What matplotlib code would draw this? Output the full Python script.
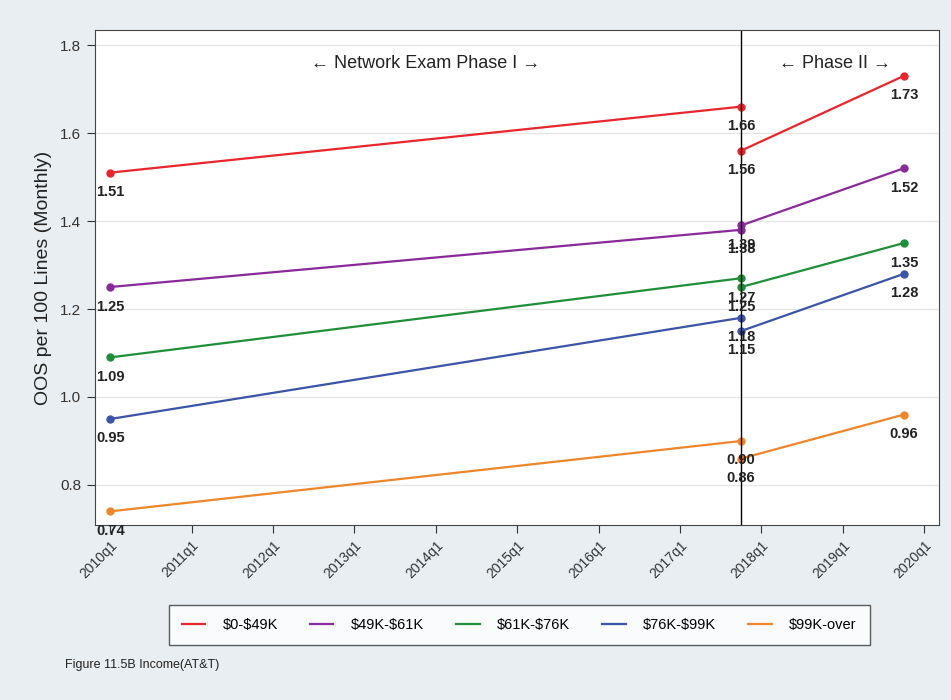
import matplotlib
matplotlib.use("Agg")
import matplotlib.pyplot as plt
from matplotlib.lines import Line2D

plt.rcParams['font.family'] = ['Liberation Sans', 'DejaVu Sans']

# Stata quarterly index: 2010q1 = 200
x_phase1 = [200, 231]   # 2010q1, 2017q4
x_phase2 = [231, 239]   # 2017q4, 2019q4
series = ["$0-$49K", "$49K-$61K", "$61K-$76K", "$76K-$99K", "$99K-over"]
colors = ["#e8262b", "#8a2a9a", "#1f8f3a", "#3a55a8", "#f0862a"]
phase1 = [[1.51, 1.66], [1.25, 1.38], [1.09, 1.27], [0.95, 1.18], [0.74, 0.90]]
phase2 = [[1.56, 1.73], [1.39, 1.52], [1.25, 1.35], [1.15, 1.28], [0.86, 0.96]]
tick_pos = [200, 204, 208, 212, 216, 220, 224, 228, 232, 236, 240]
tick_labels = ["2010q1", "2011q1", "2012q1", "2013q1", "2014q1", "2015q1",
               "2016q1", "2017q1", "2018q1", "2019q1", "2020q1"]
yticks = [0.8, 1.0, 1.2, 1.4, 1.6, 1.8]

bg = "#e9eef2"
fig = plt.figure(figsize=(9.51, 7.0), dpi=100, facecolor=bg)
ax = fig.add_axes([0.0999, 0.25, 0.887, 0.707])
ax.set_facecolor("white")

for name, c, p1, p2 in zip(series, colors, phase1, phase2):
    ax.plot(x_phase1, p1, color=c, lw=1.6, marker="o", ms=5)
    ax.plot(x_phase2, p2, color=c, lw=1.6, marker="o", ms=5)
    for xs, ys in ((x_phase1, p1), (x_phase2, p2)):
        for xv, yv in zip(xs, ys):
            ax.annotate(f"{yv:.2f}", (xv, yv), xytext=(0, -9), textcoords="offset points",
                        ha="center", va="top", fontsize=10.5, fontweight="bold", color="#222222")

ax.axvline(231, color="black", lw=1)
ax.set_xlim(199.25, 240.7)
ax.set_ylim(0.709, 1.834)
ax.set_yticks(yticks)
ax.set_yticklabels([f"{v:.1f}" for v in yticks], fontsize=11, color="#333333")
ax.set_xticks(tick_pos)
ax.set_xticklabels(tick_labels, rotation=45, ha="right", rotation_mode="anchor", fontsize=10, color="#333333")
ax.tick_params(axis="both", length=6, color="#333333")
ax.tick_params(axis="y", pad=4)
ax.grid(axis="y", color="#e6e6e6", lw=1)
ax.set_axisbelow(True)
for s in ax.spines.values():
    s.set_color("#444444")
ax.set_ylabel("OOS per 100 Lines (Monthly)", fontsize=14, color="#222222", labelpad=6)

ax.text(215.5, 1.759, "\u2190 Network Exam Phase I \u2192", ha="center", va="center", fontsize=13,
        color="#222222", family=['Liberation Sans', 'DejaVu Sans'])
ax.text(235.6, 1.759, "\u2190 Phase II \u2192", ha="center", va="center", fontsize=13,
        color="#222222", family=['Liberation Sans', 'DejaVu Sans'])

lh = [Line2D([], [], color=c, lw=1.6) for c in colors]
leg_labels = [s.replace("$", r"\$") for s in series]
leg = fig.legend(lh, leg_labels, loc="center", bbox_to_anchor=(0.546, 0.107), ncol=5,
                 fontsize=10.5, frameon=True, fancybox=False, edgecolor="#333333",
                 handlelength=1.6, handletextpad=1.2, columnspacing=2.2, borderpad=0.9)
leg.get_frame().set_linewidth(1.0)

fig.text(0.068, 0.05, "Figure 11.5B Income(AT&T)", fontsize=9, color="#222222", va="center")

fig.savefig("out.png", dpi=100, facecolor=bg)
